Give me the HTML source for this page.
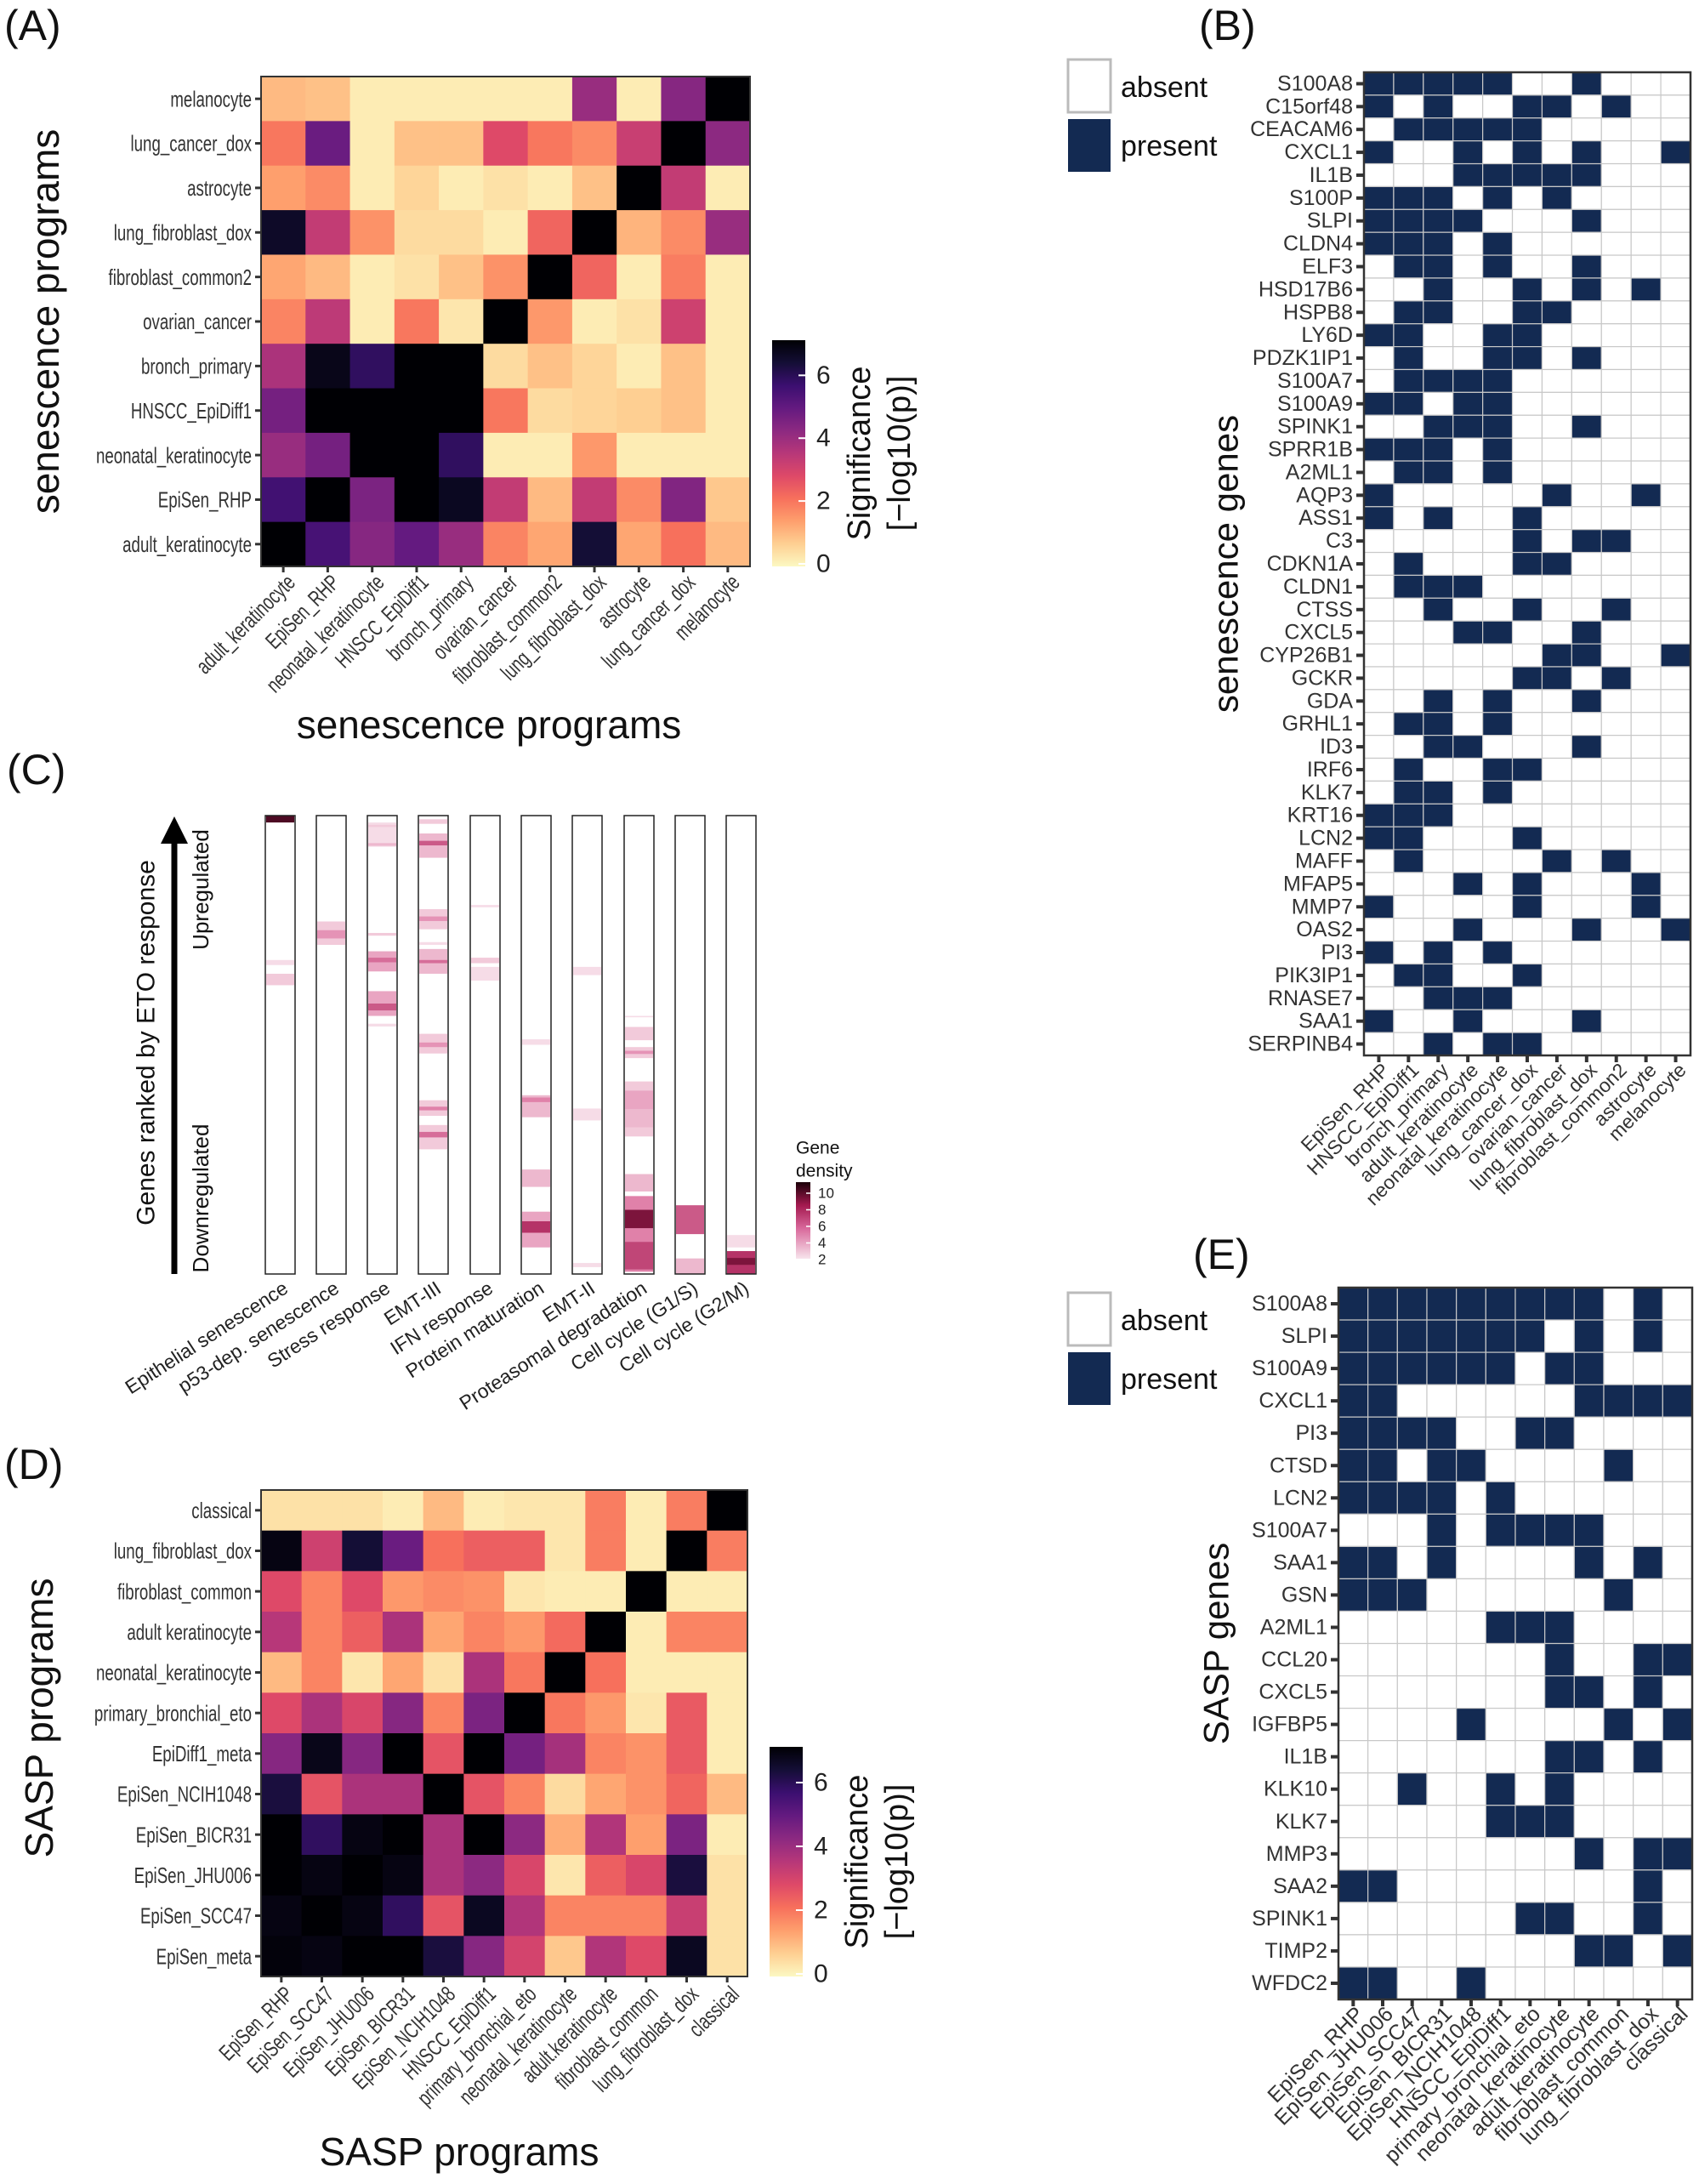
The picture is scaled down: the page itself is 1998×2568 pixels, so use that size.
<!DOCTYPE html>
<html><head><meta charset="utf-8"><style>
html,body{margin:0;padding:0;background:#fff;}
svg{display:block;font-family:"Liberation Sans",sans-serif;}
</style></head><body>
<svg id="s" width="1998" height="2568" viewBox="0 0 1998 2568" xmlns="http://www.w3.org/2000/svg">
<defs>
<linearGradient id="mg" x1="0" y1="1" x2="0" y2="0">
<stop offset="0" stop-color="#fcf8c2"/><stop offset="0.1" stop-color="#fecf92"/><stop offset="0.2" stop-color="#fe9f6d"/><stop offset="0.3" stop-color="#f7705c"/><stop offset="0.4" stop-color="#de4968"/><stop offset="0.5" stop-color="#b73779"/><stop offset="0.6" stop-color="#8c2981"/><stop offset="0.7" stop-color="#641a80"/><stop offset="0.8" stop-color="#3b0f70"/><stop offset="0.9" stop-color="#140e36"/><stop offset="1" stop-color="#000004"/>
</linearGradient>
<linearGradient id="gd" x1="0" y1="1" x2="0" y2="0">
<stop offset="0" stop-color="#f7e4ec"/><stop offset="0.4" stop-color="#d8679a"/><stop offset="0.7" stop-color="#a3194f"/><stop offset="1" stop-color="#1a0008"/>
</linearGradient>
</defs>
</svg>
<script>
var S=document.getElementById('s');var out='';
function T(x,y,t,o){o=o||{};var tr='';
 if(o.sx){tr='transform="translate('+x+' '+y+')'+(o.r!=null?' rotate('+o.r+')':'')+' scale('+o.sx+' 1)" ';x=0;y=0;}
 else if(o.r!=null){tr='transform="rotate('+o.r+' '+x+' '+y+')" ';}
 out+='<text x="'+x+'" y="'+y+'" font-size="'+(o.fs||22)+'" '+(o.a?'text-anchor="'+o.a+'" ':'')+tr+'fill="'+(o.f||'#222')+'" dominant-baseline="'+(o.db||'central')+'">'+t+'</text>';}
function R(x,y,w,h,f,s,sw){out+='<rect x="'+x+'" y="'+y+'" width="'+w+'" height="'+h+'" fill="'+f+'"'+(s?' stroke="'+s+'" stroke-width="'+(sw||1)+'"':'')+'/>';}
var st=[[0,[252,248,194]],[.1,[254,207,146]],[.2,[254,159,109]],[.3,[247,112,92]],[.4,[222,73,104]],[.5,[183,55,121]],[.6,[140,41,129]],[.7,[100,26,128]],[.8,[59,15,112]],[.9,[20,14,54]],[1,[0,0,4]]];
function mag(v){var t=Math.max(0,Math.min(1,v/7));for(var i=1;i<st.length;i++){if(t<=st[i][0]){var a=st[i-1],b=st[i],u=(t-a[0])/(b[0]-a[0]);return 'rgb('+[0,1,2].map(function(k){return Math.round(a[1][k]+(b[1][k]-a[1][k])*u)}).join(',')+')';}}return 'rgb(0,0,4)';}
function heat(x0,y0,x1,y1,rows,cols,M,cb,cbx,cby0,cby1,ytitle,xtitle,ytx,yty,xtx,xty,xlabY){
 var n=rows.length,cw=(x1-x0)/cols.length,ch=(y1-y0)/n;
 for(var i=0;i<n;i++)for(var j=0;j<cols.length;j++)R(x0+j*cw,y0+i*ch,cw+0.5,ch+0.5,mag(M[i][j]));
 R(x0,y0,x1-x0,y1-y0,'none','#333',2);
 for(var i=0;i<n;i++){var y=y0+(i+.5)*ch;out+='<line x1="'+(x0-7)+'" y1="'+y+'" x2="'+x0+'" y2="'+y+'" stroke="#333" stroke-width="3"/>';T(x0-11,y,rows[i],{a:'end',fs:26,f:'#333',sx:0.72});}
 for(var j=0;j<cols.length;j++){var x=x0+(j+.5)*cw;out+='<line x1="'+x+'" y1="'+y1+'" x2="'+x+'" y2="'+(y1+7)+'" stroke="#333" stroke-width="3"/>';T(x+9,xlabY,cols[j],{a:'end',fs:26,f:'#333',r:-45,sx:0.72});}
 R(cbx,cby0,39,cby1-cby0,'url(#mg)');
 var pu=(cby1-cby0)/7.2;
 [0,2,4,6].forEach(function(v){var y=cby1-v*pu-3;out+='<line x1="'+(cbx+31)+'" y1="'+y+'" x2="'+(cbx+39)+'" y2="'+y+'" stroke="#fff" stroke-width="2"/>';T(cbx+52,y,v,{fs:30,f:'#222'});});
 var cy=(cby0+cby1)/2;T(cbx+103,cy,'Significance',{a:'middle',fs:38,r:-90,f:'#111'});T(cbx+150,cy,'[\u2212log10(p)]',{a:'middle',fs:38,r:-90,f:'#111'});
 T(ytx,yty,ytitle,{a:'middle',fs:46,r:-90,f:'#111'});T(xtx,xty,xtitle,{a:'middle',fs:46,f:'#111'});
}
var Ar=['melanocyte','lung_cancer_dox','astrocyte','lung_fibroblast_dox','fibroblast_common2','ovarian_cancer','bronch_primary','HNSCC_EpiDiff1','neonatal_keratinocyte','EpiSen_RHP','adult_keratinocyte'];
var Ac=Ar.slice().reverse();
var AM=[[1.0,.9,.2,.2,.2,.2,.2,4.0,.2,4.3,7],[2.0,4.8,.2,.9,.9,2.8,2.0,1.7,3.2,7,4.2],[1.4,1.7,.2,.6,.2,.4,.2,.9,7,3.3,.2],[6.5,3.3,1.6,.5,.5,.2,2.3,7,1.1,1.7,4.0],[1.3,1.0,.2,.4,.9,1.6,7,2.3,.2,1.9,.2],[1.8,3.4,.2,2.0,.3,7,1.5,.2,.4,3.1,.2],[3.7,6.7,5.8,7,7,.5,.9,.6,.2,.9,.2],[4.6,7,7,7,7,2.0,.5,.6,.7,.9,.2],[4.0,4.6,7,7,5.8,.2,.2,1.5,.2,.2,.2],[5.5,7,4.5,7,6.6,3.3,1.0,3.3,1.7,4.4,.8],[7,5.4,4.3,4.9,4.0,1.8,1.3,6.3,1.3,2.1,1.0]];
heat(307,90,882,666,Ar,Ac,AM,1,908,400,666,'senescence programs','senescence programs',53,378,575,852,680);
T(5,30,'(A)',{fs:50,f:'#111'});
var Dr=['classical','lung_fibroblast_dox','fibroblast_common','adult keratinocyte','neonatal_keratinocyte','primary_bronchial_eto','EpiDiff1_meta','EpiSen_NCIH1048','EpiSen_BICR31','EpiSen_JHU006','EpiSen_SCC47','EpiSen_meta'];
var Dc=['EpiSen_RHP','EpiSen_SCC47','EpiSen_JHU006','EpiSen_BICR31','EpiSen_NCIH1048','HNSCC_EpiDiff1','primary_bronchial_eto','neonatal_keratinocyte','adult.keratinocyte','fibroblast_common','lung_fibroblast_dox','classical'];
var DM=[[.4,.4,.4,.2,1.0,.2,.3,.3,1.9,.2,1.9,7],[6.8,3.1,6.3,4.8,2.1,2.4,2.4,.3,1.9,.2,7,1.9],[2.8,1.8,2.8,1.5,1.7,1.6,.3,.2,.2,7,.2,.2],[3.5,1.8,2.4,3.7,1.3,1.8,1.5,2.2,7,.2,1.8,1.8],[1.0,1.8,.3,1.3,.4,3.7,2.0,7,2.1,.2,.2,.2],[2.8,3.7,2.9,4.3,1.8,4.5,7,2.0,1.5,.3,2.5,.2],[4.3,6.7,4.3,7,2.6,7,4.6,3.8,1.8,1.6,2.5,.2],[6.2,2.6,3.7,3.7,7,2.6,1.8,.5,1.3,1.6,2.3,1.0],[7,5.8,6.8,7,3.7,7,4.2,1.2,3.6,1.4,4.5,.2],[7,6.8,7,6.8,3.7,4.2,2.9,.3,2.4,2.9,6.2,.4],[6.8,7,6.8,5.8,2.6,6.6,3.6,1.8,1.8,1.8,3.2,.4],[6.9,6.8,7,7,6.2,4.3,3.0,.8,3.6,2.8,6.6,.4]];
heat(307,1752,879,2324,Dr,Dc,DM,1,905,2054,2324,'SASP programs','SASP programs',46,2020,540,2530,2340);
T(5,1722,'(D)',{fs:50,f:'#111'});
T(8,905,'(C)',{fs:50,f:'#111'});
var bx=[312,372,432,492,553,613,673,734,794,854],by0=959,by1=1498,bh=by1-by0;
var bands=[
[[0,.015,9],[.315,.326,2],[.345,.37,2.5]],
[[.231,.282,2.5],[.25,.268,4]],
[[.015,.068,2],[.02,.025,2.5],[.06,.066,3],[.256,.262,2.5],[.296,.34,3.5],[.31,.32,5],[.383,.437,3.5],[.41,.425,5.5],[.454,.46,2]],
[[.008,.018,2.5],[.039,.092,3],[.055,.065,5.5],[.204,.248,2.5],[.22,.23,4],[.276,.282,2],[.291,.345,3],[.315,.322,5],[.476,.519,2.5],[.495,.505,4],[.621,.655,2.5],[.635,.643,4.5],[.675,.728,2.5],[.69,.702,5]],
[[.195,.2,2],[.31,.322,2.5],[.33,.36,2]],
[[.488,.5,2],[.61,.658,3],[.615,.625,4.5],[.772,.81,3],[.864,.942,3.5],[.885,.91,6.5]],
[[.33,.348,2],[.639,.665,2],[.976,.985,2]],
[[.437,.44,2],[.461,.49,2.5],[.505,.529,2.5],[.513,.52,4],[.58,.7,2.5],[.6,.64,3.5],[.64,.68,3],[.782,.82,3],[.83,.995,4.5],[.86,.9,8],[.93,.99,6]],
[[.85,.913,5.5],[.966,1,3]],
[[.915,.942,2],[.95,1,6.5],[.965,.98,8]]];
var gdst=[[0,[250,238,243]],[.35,[225,130,170]],[.65,[170,30,85]],[1,[30,0,10]]];
function gcol(v){var t=Math.max(0,Math.min(1,(v-1.5)/8.5));for(var i=1;i<gdst.length;i++){if(t<=gdst[i][0]){var a=gdst[i-1],b=gdst[i],u=(t-a[0])/(b[0]-a[0]);return 'rgb('+[0,1,2].map(function(k){return Math.round(a[1][k]+(b[1][k]-a[1][k])*u)}).join(',')+')';}}return '#1e000a';}
var clab=['Epithelial senescence','p53-dep. senescence','Stress response','EMT-III','IFN response','Protein maturation','EMT-II','Proteasomal degradation','Cell cycle (G1/S)','Cell cycle (G2/M)'];
for(var k=0;k<10;k++){R(bx[k],by0,35,bh,'#fff');bands[k].forEach(function(b){R(bx[k]+1,by0+b[0]*bh,33,(b[1]-b[0])*bh,gcol(b[2]));});R(bx[k],by0,35,bh,'none','#222',1.5);
 T(bx[k]+24,1512,clab[k],{a:'end',fs:23,f:'#222',r:-33});}
out+='<line x1="205" y1="1498" x2="205" y2="990" stroke="#000" stroke-width="7"/><polygon points="189,992 221,992 205,960" fill="#000"/>';
T(172,1226,'Genes ranked by ETO response',{a:'middle',fs:30,r:-90,f:'#111'});
T(236,1046,'Upregulated',{a:'middle',fs:26,r:-90,f:'#111'});
T(236,1409,'Downregulated',{a:'middle',fs:26,r:-90,f:'#111'});
T(936,1350,'Gene',{fs:21,f:'#111'});T(936,1377,'density',{fs:21,f:'#111'});
R(936,1390,17,90,'url(#gd)');
[10,8,6,4,2].forEach(function(v,i){var y=1403+i*19.5;out+='<line x1="'+948+'" y1="'+y+'" x2="953" y2="'+y+'" stroke="#fff" stroke-width="1.5"/>';T(962,y,v,{fs:17,f:'#222'});});
var NV='#132a52';
function grid(x0,y0,x1,y1,rows,cols,M,fs,xfs,ty,ytitle,ytx){
 var cw=(x1-x0)/cols.length,ch=(y1-y0)/rows.length;
 for(var i=0;i<rows.length;i++)for(var j=0;j<cols.length;j++){R(x0+j*cw,y0+i*ch,cw,ch,M[i][j]?NV:'#fff','#c8c8c8',1.2);}
 R(x0,y0,x1-x0,y1-y0,'none','#333',2.5);
 for(var i=0;i<rows.length;i++){var y=y0+(i+.5)*ch;out+='<line x1="'+(x0-9)+'" y1="'+y+'" x2="'+x0+'" y2="'+y+'" stroke="#333" stroke-width="4"/>';T(x0-13,y,rows[i],{a:'end',fs:fs,f:'#333'});}
 for(var j=0;j<cols.length;j++){var x=x0+(j+.5)*cw;out+='<line x1="'+x+'" y1="'+y1+'" x2="'+x+'" y2="'+(y1+8)+'" stroke="#333" stroke-width="4"/>';T(x+8,ty,cols[j],{a:'end',fs:xfs,f:'#333',r:-45});}
 T(ytx,(y0+y1)/2,ytitle,{a:'middle',fs:42,r:-90,f:'#111'});
}
function leg(y){R(1256,y,50,62,'#fff','#bbb',3);R(1256,y+70,50,62,NV);T(1318,y+33,'absent',{fs:34,f:'#111'});T(1318,y+102,'present',{fs:34,f:'#111'});}
var Br=['S100A8','C15orf48','CEACAM6','CXCL1','IL1B','S100P','SLPI','CLDN4','ELF3','HSD17B6','HSPB8','LY6D','PDZK1IP1','S100A7','S100A9','SPINK1','SPRR1B','A2ML1','AQP3','ASS1','C3','CDKN1A','CLDN1','CTSS','CXCL5','CYP26B1','GCKR','GDA','GRHL1','ID3','IRF6','KLK7','KRT16','LCN2','MAFF','MFAP5','MMP7','OAS2','PI3','PIK3IP1','RNASE7','SAA1','SERPINB4'];
var Bc=['EpiSen_RHP','HNSCC_EpiDiff1','bronch_primary','adult_keratinocyte','neonatal_keratinocyte','lung_cancer_dox','ovarian_cancer','lung_fibroblast_dox','fibroblast_common2','astrocyte','melanocyte'];
var BS=['11111001000','10100110100','01111100000','10010101001','00011111000','11101010000','11110001000','11101000000','01101001000','00100101010','01100110000','11001100000','01001101000','01111000000','11011000000','00111001000','11101000000','01101000000','10000010010','10100100000','00000101100','01000110000','01110000000','00100100100','00011001000','00000011001','00000110100','00101001000','01101000000','00110001000','01001100000','01101000000','11100000000','11000100000','01000010100','00010100010','10000100010','00010001001','10101000000','01100100000','00111000000','10010001000','00101100000'];
grid(1604,85,1988,1241,Br,Bc,BS.map(function(s){return s.split('').map(Number)}),25,23,1254,'senescence genes',1441);
leg(70);
T(1410,30,'(B)',{fs:50,f:'#111'});
var Er=['S100A8','SLPI','S100A9','CXCL1','PI3','CTSD','LCN2','S100A7','SAA1','GSN','A2ML1','CCL20','CXCL5','IGFBP5','IL1B','KLK10','KLK7','MMP3','SAA2','SPINK1','TIMP2','WFDC2'];
var Ec=['EpiSen_RHP','EpiSen_JHU006','EpiSen_SCC47','EpiSen_BICR31','EpiSen_NCIH1048','HNSCC_EpiDiff1','primary_bronchial_eto','neonatal_keratinocyte','adult_keratinocyte','fibroblast_common','lung_fibroblast_dox','classical'];
var ES=['111111111010','111111101010','111111011000','110000001111','111100110000','110110000100','111101000000','000101111000','110100001010','111000000100','000001110000','000000010011','000000011010','000010000101','000000011010','001001010000','000001110000','000000001011','110000000010','000000110010','000000001101','110010000000'];
grid(1574,1514,1990,2351,Er,Ec,ES.map(function(s){return s.split('').map(Number)}),25,25,2364,'SASP genes',1430);
leg(1520);
T(1403,1475,'(E)',{fs:50,f:'#111'});
S.innerHTML+=out;
</script>
</body></html>
